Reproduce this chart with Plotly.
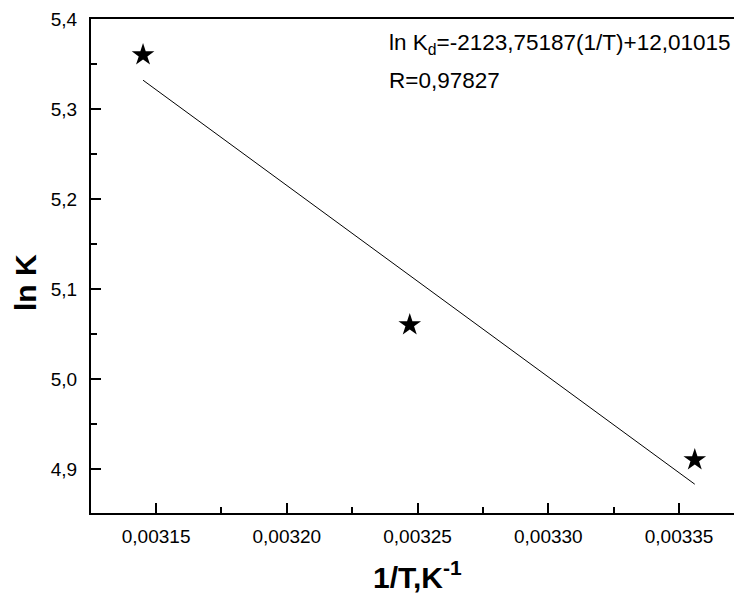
import plotly.graph_objects as go

# Data
inv_T = [0.003145, 0.003247, 0.003356]      # 1/T, K^-1
ln_K = [5.36, 5.06, 4.91]

fit_x = [0.003145, 0.003356]
fit_y = [5.332, 4.883]

eq_text = "ln K<sub>d</sub>=-2123,75187(1/T)+12,01015"
r_text = "R=0,97827"
x_title = "1/T,K<sup>-1</sup>"
y_title = "ln K"

x_range = [0.0031251, 0.0033710]
y_range = [4.851, 5.4]

FONT = "Liberation Sans, Arial, sans-serif"

fig = go.Figure()
fig.add_trace(go.Scatter(x=fit_x, y=fit_y, mode="lines",
                         line=dict(color="black", width=1), showlegend=False))
fig.add_trace(go.Scatter(x=inv_T, y=ln_K, mode="markers",
                         marker=dict(symbol="star", size=17, color="black",
                                     line=dict(width=0)), showlegend=False))

fig.update_layout(
    width=734, height=601,
    margin=dict(l=91, r=0, t=19, b=88),
    paper_bgcolor="white", plot_bgcolor="white",
    separators=", ",
    font=dict(family=FONT, color="black"),
    xaxis=dict(range=x_range, showgrid=False, zeroline=False,
               showline=True, linecolor="black", linewidth=2, mirror=True,
               ticks="inside", ticklen=10, tickwidth=2, tickcolor="black",
               tick0=0.00315, dtick=0.00005, tickformat=".5f",
               tickfont=dict(size=19, family=FONT), ticklabelstandoff=5,
               minor=dict(ticks="inside", ticklen=6, tickwidth=2, tickcolor="black",
                          dtick=0.000025, tick0=0.00315, showgrid=False)),
    yaxis=dict(range=y_range, showgrid=False, zeroline=False,
               showline=True, linecolor="black", linewidth=2,
               ticks="inside", ticklen=10, tickwidth=2, tickcolor="black",
               tick0=5.0, dtick=0.1, tickformat=".1f",
               tickfont=dict(size=19, family=FONT), ticklabelstandoff=8,
               minor=dict(ticks="inside", ticklen=6, tickwidth=2, tickcolor="black",
                          dtick=0.05, tick0=5.0, showgrid=False)),
)

fig.add_annotation(text=eq_text, xref="paper", yref="paper", x=0.4603, y=0.949,
                   xanchor="left", yanchor="middle", showarrow=False,
                   font=dict(size=22.5, family=FONT, color="black"))
fig.add_annotation(text=r_text, xref="paper", yref="paper", x=0.4603, y=0.8765,
                   xanchor="left", yanchor="middle", showarrow=False,
                   font=dict(size=22.5, family=FONT, color="black"))
fig.add_annotation(text="<b>" + x_title + "</b>", xref="paper", yref="paper",
                   x=0.507, y=-0.125, xanchor="center", yanchor="middle",
                   showarrow=False, font=dict(size=30, family=FONT, color="black"))
fig.add_annotation(text="<b>" + y_title + "</b>", xref="paper", yref="paper",
                   x=-0.101, y=0.4656, xanchor="center", yanchor="middle",
                   textangle=-90, showarrow=False,
                   font=dict(size=30, family=FONT, color="black"))

fig.write_html("out.html")
